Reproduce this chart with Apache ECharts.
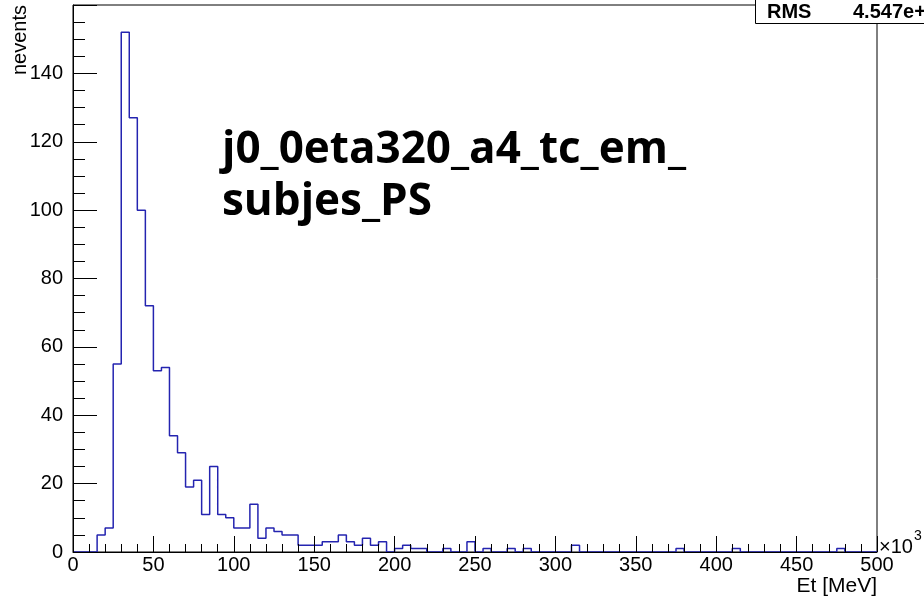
<!DOCTYPE html>
<html>
<head>
<meta charset="utf-8">
<script src="https://cdn.jsdelivr.net/npm/echarts@6.0.0/dist/echarts.min.js"></script>
<style>
  html, body { margin: 0; padding: 0; background: #fff; }
  #chart { width: 924px; height: 598px; }
</style>
</head>
<body>
<div id="chart"></div>
<script>
// histogram Et [MeV] x10^3, bins of 5 from 0 to 500
const binWidth = 5;
const xMin = 0;
const xMax = 500;
const counts = [
    0, 0, 0, 5, 7, 55, 152, 127, 100, 72,
    53, 54, 34, 29, 19, 21, 11, 25, 11, 10,
    7, 7, 14, 4, 7, 6, 5, 5, 2, 2,
    2, 3, 3, 5, 3, 2, 4, 2, 3, 0,
    1, 2, 1, 1, 0, 0, 1, 0, 0, 3,
    0, 1, 0, 0, 1, 0, 1, 0, 0, 0,
    0, 0, 2, 0, 0, 0, 0, 0, 0, 0,
    0, 0, 0, 0, 0, 1, 0, 0, 0, 0,
    0, 0, 1, 0, 0, 0, 0, 0, 0, 0,
    0, 0, 0, 0, 0, 1, 0, 0, 0, 0
];
const histTitle = ['j0_0eta320_a4_tc_em_', 'subjes_PS'];
const xName = 'Et [MeV]';
const yName = 'nevents';
const statsLabel = 'RMS';
const statsValue = '4.547e+04';

function stepPoints() {
    const pts = [];
    for (let i = 0; i < counts.length; i++) {
        pts.push([xMin + i * binWidth, counts[i]]);
    }
    pts.push([xMin + counts.length * binWidth, counts[counts.length - 1]]);
    return pts;
}

const chart = echarts.init(document.getElementById('chart'));
const axisFont = 'Liberation Sans, Arial, Helvetica, sans-serif';

chart.setOption({
    animation: false,
    backgroundColor: '#fff',
    grid: {
        left: 73, right: 47, top: 5, bottom: 46,
        show: true, borderColor: '#000', borderWidth: 1,
        backgroundColor: 'transparent',
        containLabel: false, outerBoundsMode: 'none'
    },
    xAxis: {
        type: 'value', min: xMin, max: xMax, interval: 50, z: 3,
        axisLine: { show: true, onZero: false, lineStyle: { color: '#000', width: 1 } },
        axisTick: { show: true, inside: true, length: 16, lineStyle: { color: '#000' } },
        minorTick: { show: true, splitNumber: 5, length: 8, lineStyle: { color: '#000' } },
        splitLine: { show: false },
        axisLabel: { color: '#000', fontSize: 20, fontFamily: axisFont, margin: 3 }
    },
    yAxis: {
        type: 'value', min: 0, max: 160, interval: 20,
        axisLine: { show: true, lineStyle: { color: '#000', width: 1 } },
        axisTick: { show: true, inside: true, length: 24, lineStyle: { color: '#000' } },
        minorTick: { show: true, splitNumber: 4, length: 12, lineStyle: { color: '#000' } },
        splitLine: { show: false },
        axisLabel: { color: '#000', fontSize: 20, fontFamily: axisFont, margin: 10, showMaxLabel: false }
    },
    series: [{
        type: 'line',
        data: stepPoints(),
        step: 'end',
        showSymbol: false,
        symbol: 'none',
        lineStyle: { color: '#2424b0', width: 1.5 },
        z: 2
    }],
    graphic: [
        {
            type: 'text', x: 20, y: 5, rotation: Math.PI / 2,
            style: {
                text: yName, fill: '#000', font: '20px ' + axisFont,
                align: 'right', verticalAlign: 'middle'
            }
        },
        {
            type: 'text', x: 877, y: 586,
            style: { text: xName, fill: '#000', font: '21px ' + axisFont, align: 'right', verticalAlign: 'middle' }
        },
        {
            type: 'text', x: 879, y: 547,
            style: { text: '\u00d710', fill: '#000', font: '20px ' + axisFont, align: 'left', verticalAlign: 'middle' }
        },
        {
            type: 'text', x: 914, y: 536,
            style: { text: '3', fill: '#000', font: '14px ' + axisFont, align: 'left', verticalAlign: 'middle' }
        },
        {
            type: 'text', x: 222, y: 150,
            style: {
                text: histTitle[0], fill: '#000',
                font: 'bold 44px "Open Sans", sans-serif',
                align: 'left', verticalAlign: 'middle'
            }
        },
        {
            type: 'text', x: 222, y: 202,
            style: {
                text: histTitle[1], fill: '#000',
                font: 'bold 44px "Open Sans", sans-serif',
                align: 'left', verticalAlign: 'middle'
            }
        },
        {
            type: 'rect', z: 10,
            shape: { x: 755.5, y: -30, width: 220, height: 53.5 },
            style: { fill: '#fff', stroke: '#000', lineWidth: 1 }
        },
        {
            type: 'text', z: 11, x: 767, y: 12,
            style: { text: statsLabel, fill: '#000', font: 'bold 20px ' + axisFont, align: 'left', verticalAlign: 'middle' }
        },
        {
            type: 'text', z: 11, x: 853, y: 12,
            style: { text: statsValue, fill: '#000', font: 'bold 20px ' + axisFont, align: 'left', verticalAlign: 'middle' }
        }
    ]
});
</script>
</body>
</html>
